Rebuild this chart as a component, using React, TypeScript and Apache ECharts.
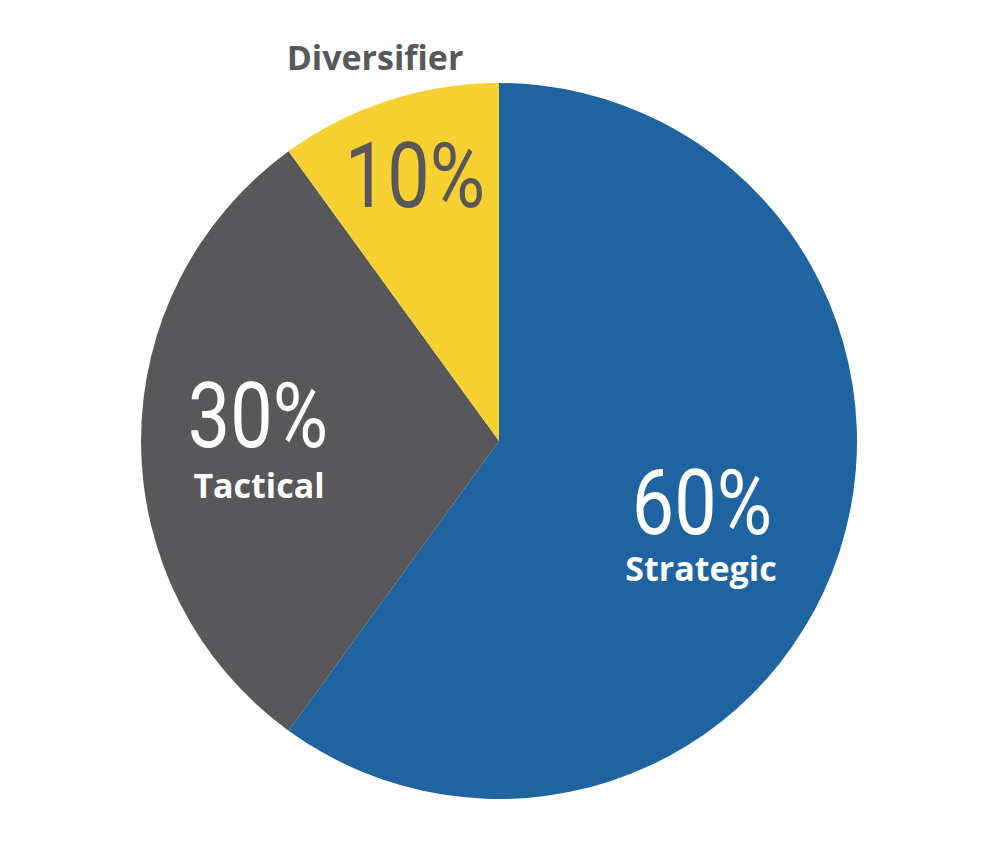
import React, { useEffect, useRef } from "react";
import * as echarts from "echarts";

const categories = ["Strategic", "Tactical", "Diversifier"];
const values = [60, 30, 10];
const colors = ["#1f64a0", "#58585a", "#f7d132"];
const pctColors = ["#ffffff", "#ffffff", "#58585a"];
const nameColors = ["#ffffff", "#ffffff", "#58585a"];

// label positions (layout only)
const pctPos = [[702, 503], [258, 416], [415, 176]];
const namePos = [[701, 568], [259, 485], [375, 57]];

export default function App() {
  const ref = useRef<HTMLDivElement>(null);
  useEffect(() => {
    if (!ref.current) return;
    const chart = echarts.init(ref.current, null, { renderer: "svg" });
    const total = values.reduce((a, b) => a + b, 0);
    const graphics: any[] = [];
    categories.forEach((c, i) => {
      graphics.push({
        type: "text",
        z: 100,
        x: pctPos[i][0],
        y: pctPos[i][1],
        scaleX: 0.84,
        style: {
          text: Math.round((values[i] / total) * 100) + "%",
          font: "90px Roboto, sans-serif",
          lineHeight: 66,
          fill: pctColors[i],
          textAlign: "center",
          textVerticalAlign: "middle",
        },
      });
      graphics.push({
        type: "text",
        z: 100,
        x: namePos[i][0],
        y: namePos[i][1],
        style: {
          text: c,
          font: "bold 34px 'Open Sans', sans-serif",
          lineHeight: 36,
          fill: nameColors[i],
          textAlign: "center",
          textVerticalAlign: "middle",
        },
      });
    });
    chart.setOption({
      animation: false,
      backgroundColor: "#ffffff",
      series: [
        {
          type: "pie",
          z: 1,
          center: [499, 441],
          radius: 358,
          startAngle: 90,
          clockwise: true,
          label: { show: false },
          labelLine: { show: false },
          itemStyle: { borderWidth: 0 },
          emphasis: { disabled: true },
          data: categories.map((c, i) => ({
            name: c,
            value: values[i],
            itemStyle: { color: colors[i] },
          })),
        },
      ],
      graphic: graphics,
    });
    return () => chart.dispose();
  }, []);
  return (
    <div
      ref={ref}
      style={{ position: "fixed", left: 0, top: 0, width: 1001, height: 850 }}
    />
  );
}
